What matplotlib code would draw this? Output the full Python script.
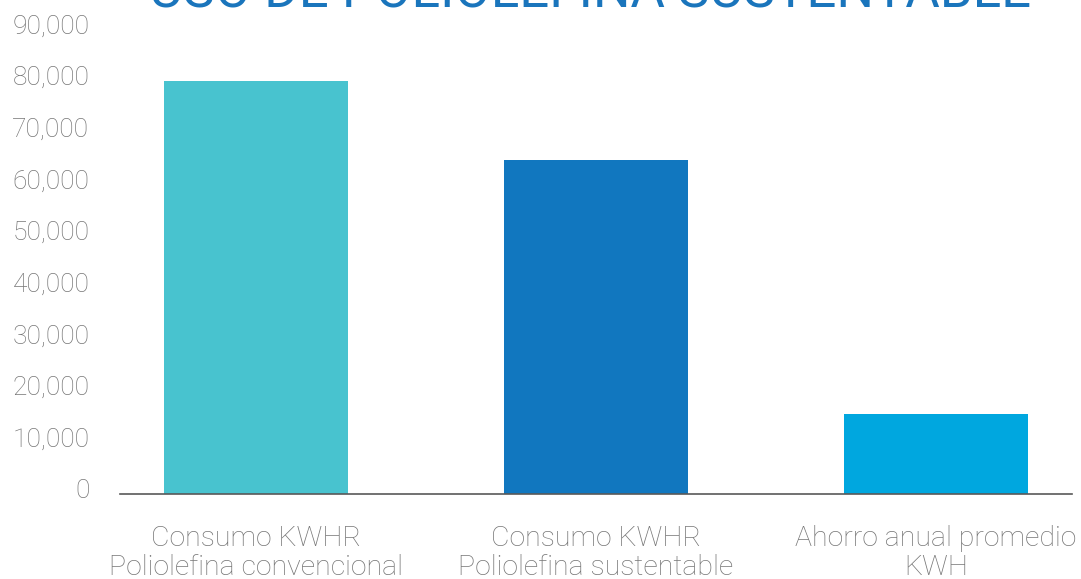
import matplotlib
matplotlib.use("Agg")
import matplotlib.pyplot as plt
from matplotlib.ticker import FuncFormatter
from matplotlib.transforms import ScaledTranslation

categories = ["Consumo KWHR\nPoliolefina convencional",
              "Consumo KWHR\nPoliolefina sustentable",
              "Ahorro anual promedio\nKWH"]
values = [80000, 64600, 15400]
colors = ["#48C3CF", "#1177BF", "#00A7DF"]
yticks = [0, 10000, 20000, 30000, 40000, 50000, 60000, 70000, 80000, 90000]
title = "USO DE POLIOLEFINA SUSTENTABLE"

W, H = 1081, 579
fig = plt.figure(figsize=(W / 100, H / 100), dpi=100)
ax = fig.add_axes([120 / W, 1 - 494 / H, (1072 - 120) / W, (494 - 29) / H])

x = list(range(len(categories)))
ax.bar(x, values, width=0.544, color=colors, zorder=2)
ax.set_xlim(-0.4, 2.4)
ax.set_ylim(0, 90000)
ax.set_yticks(yticks)
ax.yaxis.set_major_formatter(FuncFormatter(lambda v, p: f"{int(v):,}"))
ax.set_xticks(x)
ax.set_xticklabels(categories)

for s in ["top", "right", "left"]:
    ax.spines[s].set_visible(False)
ax.spines["bottom"].set_color("#595959")
ax.spines["bottom"].set_linewidth(1.2)
ax.tick_params(axis="both", length=0)
ax.tick_params(axis="y", pad=22, labelsize=19, labelcolor="#767676")
ax.tick_params(axis="x", pad=22, labelsize=20.5, labelcolor="#767676")
shift = ScaledTranslation(0, 5 / 100, fig.dpi_scale_trans)
for lab in ax.get_yticklabels():
    lab.set_fontfamily("Roboto")
    lab.set_fontweight("light")
    lab.set_transform(lab.get_transform() + shift)
for lab in ax.get_xticklabels():
    lab.set_fontfamily("Roboto")
    lab.set_fontweight("light")
    lab.set_linespacing(1.12)

fig.text(590 / W, 1 - 8 / H, title, ha="center", va="baseline",
         fontsize=38, color="#1A75BC", family="Roboto")

fig.savefig("out.png", dpi=100)
